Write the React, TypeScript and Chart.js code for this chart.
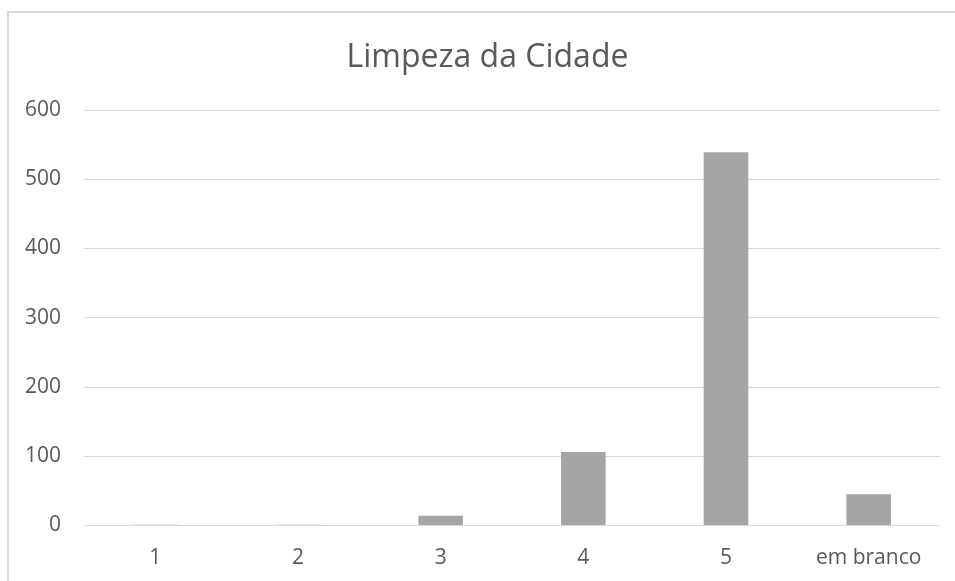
import React, { useEffect, useRef } from "react";
import { Chart, registerables } from "chart.js";

Chart.register(...registerables);

const categories = ["1", "2", "3", "4", "5", "em branco"];
const values = [1, 1, 14, 106, 539, 45];
const yTicks = [0, 100, 200, 300, 400, 500, 600];
const title = "Limpeza da Cidade";

const framePlugin = {
  id: "frame",
  beforeDraw(chart: any) {
    const ctx = chart.ctx;
    ctx.save();
    ctx.fillStyle = "#ffffff";
    ctx.fillRect(0, 0, chart.width, chart.height);
    ctx.strokeStyle = "#D9D9D9";
    ctx.lineWidth = 2;
    ctx.beginPath();
    ctx.moveTo(8, chart.height);
    ctx.lineTo(8, 12);
    ctx.lineTo(chart.width, 12);
    ctx.stroke();
    ctx.restore();
  },
  afterDraw(chart: any) {
    const ctx = chart.ctx;
    ctx.save();
    ctx.fillStyle = "#595959";
    ctx.font = "32px 'Open Sans'";
    ctx.textAlign = "center";
    ctx.textBaseline = "alphabetic";
    ctx.fillText(title, 487.5, 67);
    ctx.restore();
  },
};

export default function App() {
  const ref = useRef<HTMLCanvasElement | null>(null);
  useEffect(() => {
    if (!ref.current) return;
    const chart = new Chart(ref.current, {
      type: "bar",
      data: {
        labels: categories,
        datasets: [
          {
            data: values,
            backgroundColor: "#A5A5A5",
            borderWidth: 0,
            categoryPercentage: 1,
            barPercentage: 0.3125,
          },
        ],
      },
      options: {
        animation: false,
        responsive: false,
        layout: { padding: { left: 0, right: 15, top: 110, bottom: 0 } },
        plugins: {
          legend: { display: false },
          tooltip: { enabled: false },
          title: { display: false },
        },
        scales: {
          x: {
            grid: { display: false, drawTicks: false },
            border: { display: false },
            ticks: {
              color: "#595959",
              font: { family: "'Open Sans'", size: 21 },
              padding: 20,
              maxRotation: 0,
            },
            afterFit: (s: any) => {
              s.height = 55.5;
            },
          },
          y: {
            min: 0,
            max: 600,
            afterBuildTicks: (s: any) => {
              s.ticks = yTicks.map((v) => ({ value: v }));
            },
            grid: { color: "#D9D9D9", lineWidth: 1, drawTicks: false },
            border: { display: false },
            ticks: {
              color: "#595959",
              font: { family: "'Open Sans'", size: 21 },
              padding: 23,
            },
            afterFit: (s: any) => {
              s.width = 84;
            },
          },
        },
      },
      plugins: [framePlugin],
    });
    return () => chart.destroy();
  }, []);
  return (
    <div style={{ position: "absolute", left: 0, top: 0, width: 955, height: 581 }}>
      <canvas ref={ref} width={955} height={581} />
    </div>
  );
}
